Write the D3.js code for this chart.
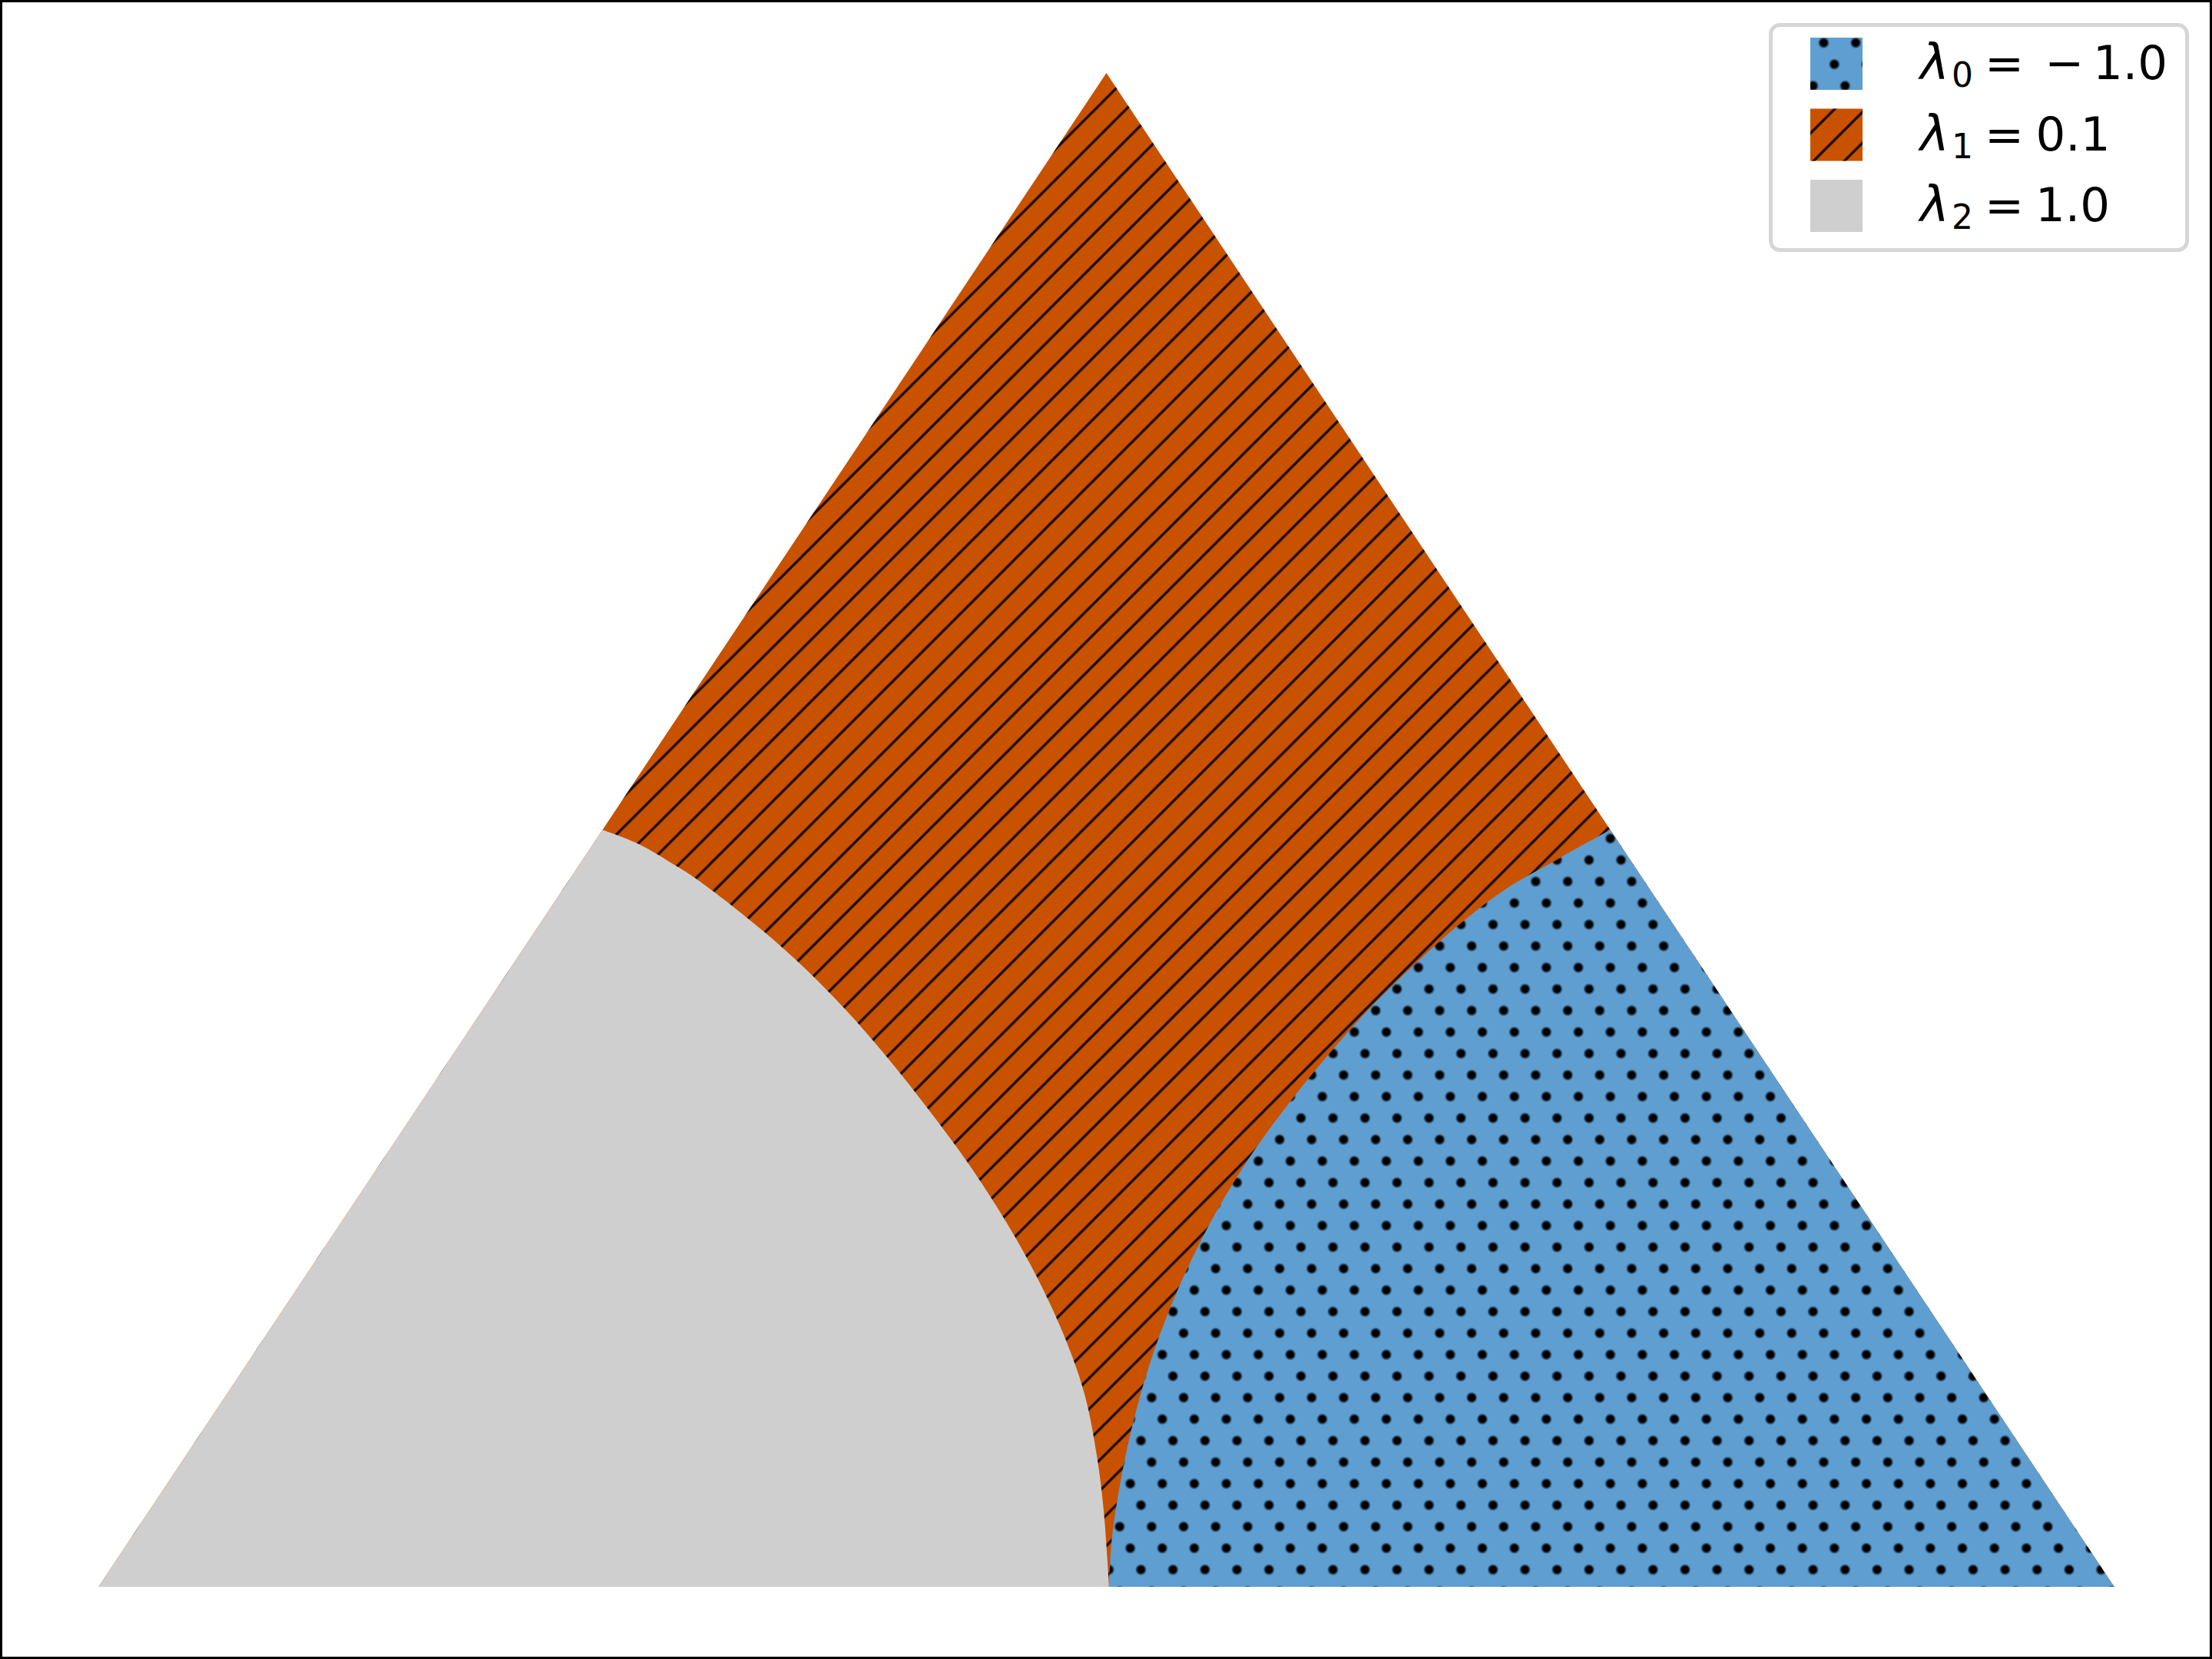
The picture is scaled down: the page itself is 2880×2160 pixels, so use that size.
<!DOCTYPE html>
<html>
<head>
<meta charset="utf-8">
<script src="https://cdn.jsdelivr.net/npm/d3@7"></script>
<style>
  body { margin: 0; background: #fff; }
  text { font-family: "DejaVu Sans", sans-serif; fill: #000; }
</style>
</head>
<body>
<div id="chart"></div>
<script>
// --- 1. DATA ---
// simplex corners (plane coordinates)
const cornerX = [0, 1, 0.5];
const cornerY = [0, 0, 0.866];

// boundary lambda_2 (gray) / lambda_1 (orange)
const grayEdgeX = [0.25, 0.2680, 0.2871, 0.2960, 0.3228, 0.3466, 0.3704, 0.3908, 0.4121,
                   0.4316, 0.4503, 0.4657, 0.4801, 0.4895, 0.4954, 0.4988, 0.5013];
const grayEdgeY = [0.433, 0.4249, 0.4120, 0.4054, 0.3817, 0.3580, 0.3304, 0.3035, 0.2725,
                   0.2420, 0.2087, 0.1768, 0.1406, 0.1087, 0.0739, 0.0420, 0];

// boundary lambda_0 (blue) / lambda_1 (orange)
const blueEdgeX = [0.75, 0.7329, 0.7208, 0.6973, 0.6738, 0.6520, 0.6302, 0.6100, 0.5916,
                   0.5732, 0.5581, 0.5446, 0.5321, 0.5211, 0.5127, 0.5069, 0.5027, 0.5013];
const blueEdgeY = [0.433, 0.4222, 0.4142, 0.3985, 0.3777, 0.3551, 0.3304, 0.3043, 0.2782,
                   0.2493, 0.2218, 0.1928, 0.1609, 0.1261, 0.0913, 0.0594, 0.0275, 0];

// legend
const lambdaIndex = ["0", "1", "2"];
const lambdaValue = ["\u22121.0", "0.1", "1.0"];

// --- 2. CANVAS ---
const W = 2880, H = 2160;
const colors = { blue: "#5F9ED1", orange: "#C85200", gray: "#CFCFCF" };

const svg = d3.select("#chart")
  .append("svg")
    .attr("width", W)
    .attr("height", H);

svg.append("rect")
    .attr("width", W).attr("height", H)
    .attr("fill", "#fff");

const x = d3.scaleLinear().domain([0, 1]).range([128.3, 2752.7]);
const y = d3.scaleLinear().domain([0, 0.866]).range([2066, 95]);

// --- 3. HATCH PATTERNS ---
const defs = svg.append("defs");

// small filled dots, lattice (41.67, 0) and (13.89, 28)
const dotW = 41.67, dotH = 84;
const grad = defs.append("radialGradient").attr("id", "dotGrad");
grad.append("stop").attr("offset", "0%").attr("stop-color", "#000").attr("stop-opacity", 1);
grad.append("stop").attr("offset", "55%").attr("stop-color", "#000").attr("stop-opacity", 1);
grad.append("stop").attr("offset", "100%").attr("stop-color", "#000").attr("stop-opacity", 0);

const dots = defs.append("pattern")
    .attr("id", "dots")
    .attr("patternUnits", "userSpaceOnUse")
    .attr("x", 1638.3).attr("y", 1511.7)
    .attr("width", dotW).attr("height", dotH);
[[0, 0], [dotW, 0], [0, dotH], [dotW, dotH], [dotW / 3, dotH / 3], [2 * dotW / 3, 2 * dotH / 3]]
  .forEach(p => {
    dots.append("circle")
        .attr("cx", p[0]).attr("cy", p[1])
        .attr("r", 7.6)
        .attr("fill", "url(#dotGrad)");
  });

// diagonal lines "/" , horizontal period ~40.1 px
const P = 40.1;
const hatchC0 = 1568.3;                       // x + y of one hatch line
const hatch = defs.append("pattern")
    .attr("id", "hatch")
    .attr("patternUnits", "userSpaceOnUse")
    .attr("x", 0).attr("y", ((hatchC0 - P) % P + P) % P)
    .attr("width", P).attr("height", P);
hatch.append("path")
    .attr("d", `M0,${P}L${P},0M${-P / 2},${P / 2}L${P / 2},${-P / 2}M${P / 2},${1.5 * P}L${1.5 * P},${P / 2}`)
    .attr("stroke", "#000")
    .attr("stroke-opacity", 0.85)
    .attr("stroke-width", 3.4);

// --- 4. REGIONS ---
const curve = d3.line()
    .x(d => x(d[0]))
    .y(d => y(d[1]))
    .curve(d3.curveCatmullRom.alpha(0.5));

const corners = cornerX.map((v, i) => [v, cornerY[i]]);
const triPath = "M" + corners.map(d => x(d[0]) + "," + y(d[1])).join("L") + "Z";

// orange base (lambda_1) over the whole simplex
svg.append("path").attr("d", triPath).attr("fill", colors.orange);
svg.append("path").attr("d", triPath).attr("fill", "url(#hatch)");

// gray region (lambda_2), bottom-left corner
const grayPts = grayEdgeX.map((v, i) => [v, grayEdgeY[i]]);
const grayPath = "M" + x(corners[0][0]) + "," + y(corners[0][1]) +
                 "L" + curve(grayPts).slice(1) + "Z";
svg.append("path").attr("d", grayPath).attr("fill", colors.gray);

// blue region (lambda_0), bottom-right corner
const bluePts = blueEdgeX.map((v, i) => [v, blueEdgeY[i]]);
const bluePath = "M" + x(corners[1][0]) + "," + y(corners[1][1]) +
                 "L" + curve(bluePts).slice(1) + "Z";
svg.append("path").attr("d", bluePath).attr("fill", colors.blue);
svg.append("path").attr("d", bluePath).attr("fill", "url(#dots)");

// --- 5. LEGEND ---
const legend = svg.append("g");
legend.append("rect")
    .attr("x", 2305.5).attr("y", 32.5)
    .attr("width", 542).attr("height", 293)
    .attr("rx", 12).attr("ry", 12)
    .attr("fill", "#fff").attr("fill-opacity", 0.8)
    .attr("stroke", "#d6d6d6").attr("stroke-width", 5);

const rowFills = [[colors.blue, "url(#dots)"], [colors.orange, "url(#hatch)"], [colors.gray, null]];
const rowTop = [49, 141.5, 234];
const rowBase = [103.3, 195.7, 288.3];
const valueX = [2669.5, 2650.5, 2650];

lambdaIndex.forEach((idx, i) => {
  rowFills[i].forEach(f => {
    if (!f) return;
    legend.append("rect")
        .attr("x", 2357).attr("y", rowTop[i])
        .attr("width", 68).attr("height", 68)
        .attr("fill", f);
  });

  const t = legend.append("text")
      .attr("y", rowBase[i])
      .style("font-size", "61px");
  t.append("tspan").attr("x", 2500).style("font-style", "italic").style("font-size", "64px").text("\u03bb");
  t.append("tspan").attr("x", 2541).attr("dy", 10).style("font-size", "44px").text(idx);
  t.append("tspan").attr("x", 2584).attr("dy", -10).text("=");

  const v = lambdaValue[i];
  if (v.startsWith("\u2212")) {
    t.append("tspan").attr("x", 2662).text("\u2212");
    t.append("tspan").attr("x", 2725).text(v.slice(1));
  } else {
    t.append("tspan").attr("x", valueX[i]).text(v);
  }
});

// --- 6. FIGURE FRAME ---
svg.append("rect")
    .attr("x", 1.5).attr("y", 1.5)
    .attr("width", W - 3).attr("height", H - 3)
    .attr("fill", "none")
    .attr("stroke", "#000")
    .attr("stroke-width", 3);
</script>
</body>
</html>
